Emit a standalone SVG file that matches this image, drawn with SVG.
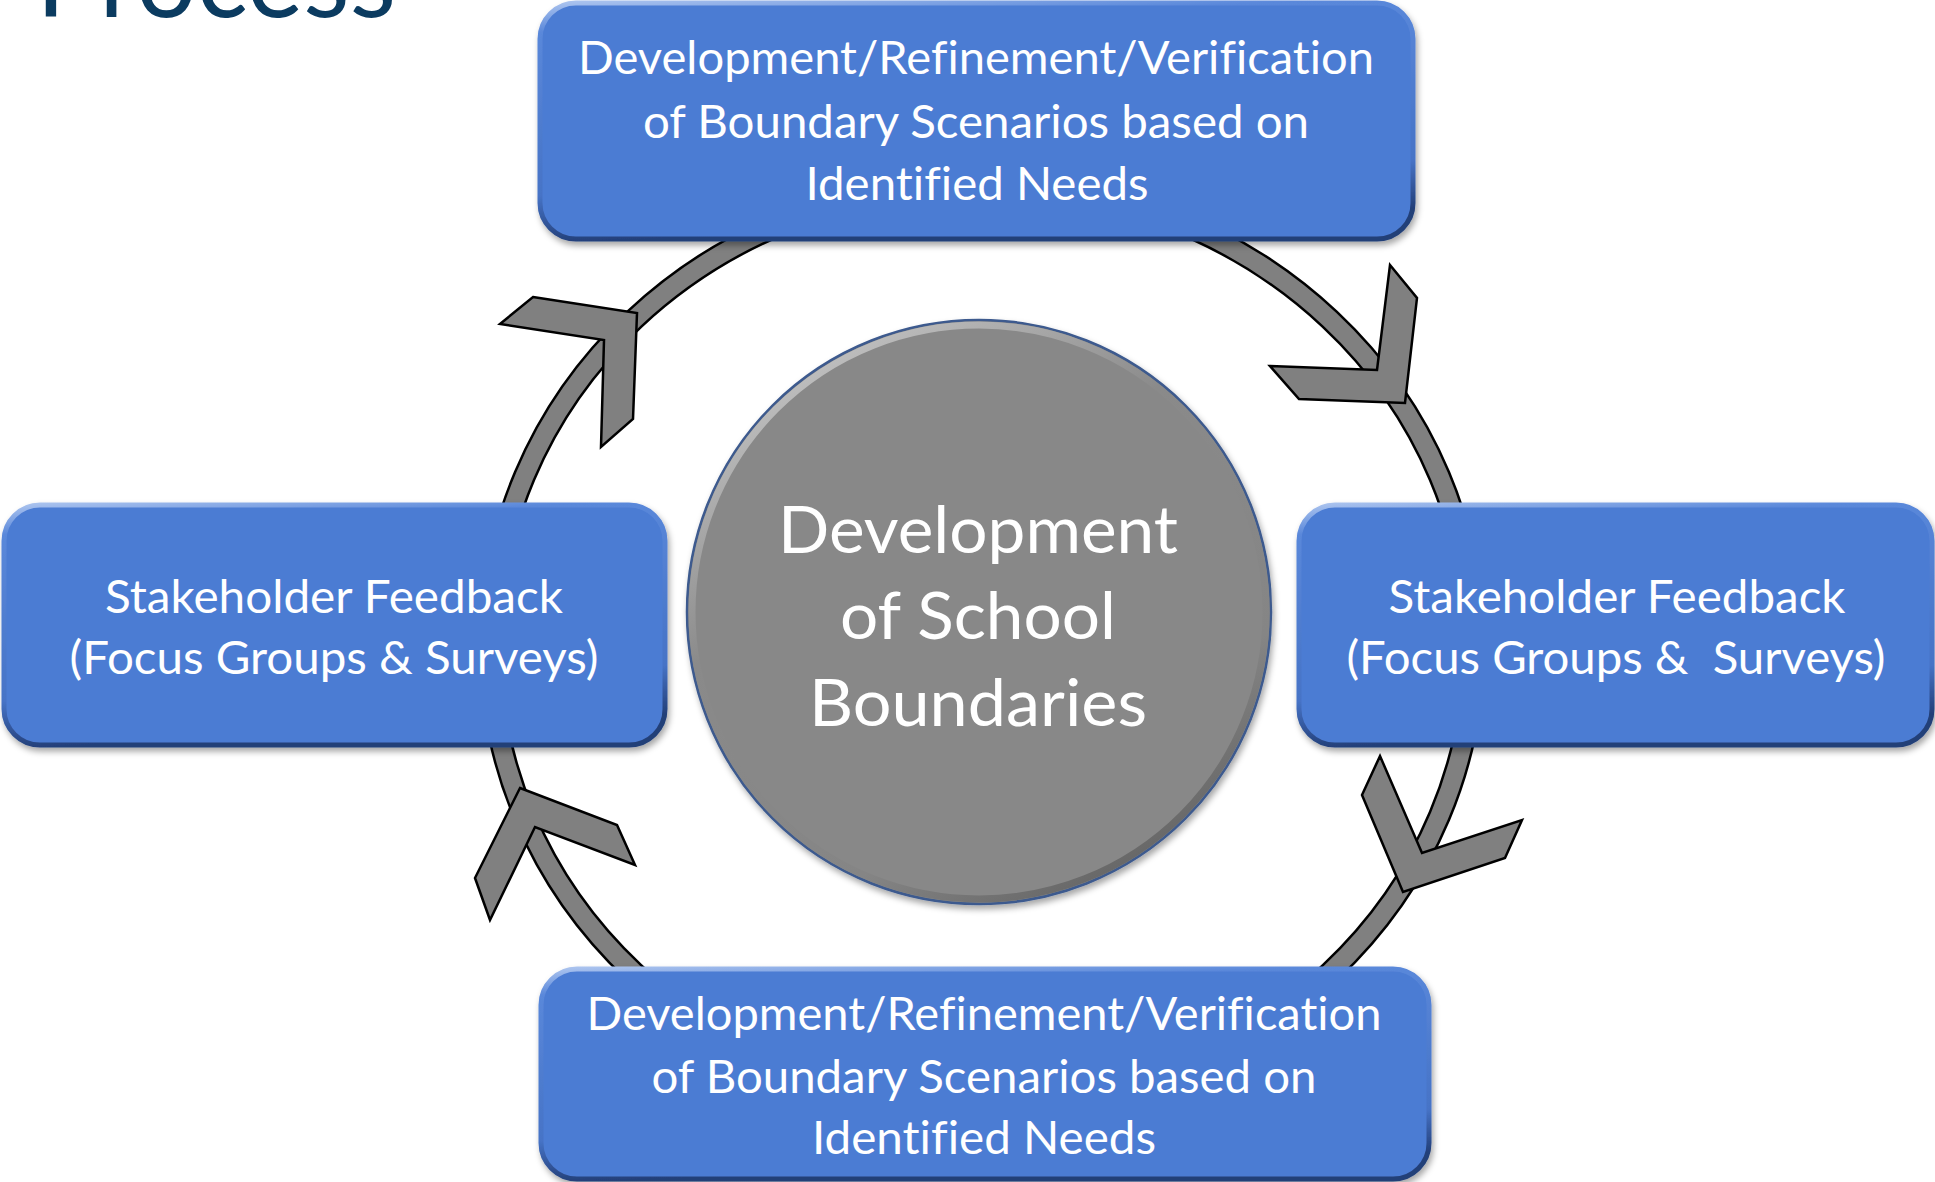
<svg xmlns="http://www.w3.org/2000/svg" width="1935" height="1182" viewBox="0 0 1935 1182">
  <style>
    .box { fill: #4B7BD3; stroke: url(#boxEdge); stroke-width: 5; }
    .btxt { font-family: Lato, "Open Sans", "Liberation Sans", sans-serif; font-size: 46px; fill: #FFFFFF; text-anchor: middle; white-space: pre; font-variant-ligatures: none; }
    .ctxt { font-family: Lato, "Open Sans", "Liberation Sans", sans-serif; font-size: 65px; fill: #FFFFFF; text-anchor: middle; font-variant-ligatures: none; }
    .chev { fill: #808080; stroke: #000000; stroke-width: 2.5; stroke-linejoin: miter; }
    .title { font-family: Lato, "Open Sans", "Liberation Sans", sans-serif; font-size: 110px; fill: #0B3B60; }
  </style>
  <defs>
    <linearGradient id="boxEdge" x1="0" y1="0" x2="0.15" y2="1">
      <stop offset="0" stop-color="#A9C2EE"/>
      <stop offset="0.12" stop-color="#5A88DA"/>
      <stop offset="0.8" stop-color="#4673C6"/>
      <stop offset="1" stop-color="#233F78"/>
    </linearGradient>
    <linearGradient id="circEdge" x1="0.2" y1="0" x2="0.8" y2="1">
      <stop offset="0" stop-color="#C8C8C8"/>
      <stop offset="0.35" stop-color="#8A8A8A"/>
      <stop offset="0.75" stop-color="#858585"/>
      <stop offset="1" stop-color="#5E5E5E"/>
    </linearGradient>
    <filter id="shadow" x="-10%" y="-10%" width="120%" height="130%">
      <feDropShadow dx="2" dy="4" stdDeviation="3" flood-color="#000000" flood-opacity="0.35"/>
    </filter>
  </defs>

  <rect x="0" y="0" width="1935" height="1182" fill="#FFFFFF"/>

  <text class="title" x="36" y="17" textLength="360" lengthAdjust="spacingAndGlyphs">Process</text>

  <g id="connectors">
    <ellipse cx="982" cy="646" rx="492" ry="462" fill="none" stroke="#000000" stroke-width="23"/>
    <ellipse cx="982" cy="646" rx="492" ry="462" fill="none" stroke="#808080" stroke-width="18"/>
    <polygon class="chev" points="533,297 637,313 633,419 601,447 604,340 500,324"/>
    <polygon class="chev" points="1390,265 1417,298 1405,403 1299,399 1270,366 1377,370"/>
    <polygon class="chev" points="1380,756 1422,853 1522,820 1505,858 1403,892 1362,795"/>
    <polygon class="chev" points="520,788 617,825 635,865 535,827 490,920 475,878"/>
  </g>

  <g id="node-center">
    <circle cx="979" cy="612" r="292" fill="#888888" stroke="#3D5A8E" stroke-width="2.5" filter="url(#shadow)"/>
    <circle cx="979" cy="612" r="287" fill="none" stroke="url(#circEdge)" stroke-width="7"/>
    <text class="ctxt" x="978" y="553" textLength="400" lengthAdjust="spacingAndGlyphs">Development</text>
    <text class="ctxt" x="978" y="639" textLength="276" lengthAdjust="spacingAndGlyphs">of School</text>
    <text class="ctxt" x="978" y="726" textLength="338" lengthAdjust="spacingAndGlyphs">Boundaries</text>
  </g>

  <g id="node-top">
    <rect class="box" x="540" y="3" width="873" height="236" rx="36" filter="url(#shadow)"/>
    <text class="btxt" x="976" y="74" textLength="796" lengthAdjust="spacingAndGlyphs">Development/Refinement/Verification</text>
    <text class="btxt" x="976" y="138" textLength="666" lengthAdjust="spacingAndGlyphs">of Boundary Scenarios based on</text>
    <text class="btxt" x="977" y="200" textLength="343" lengthAdjust="spacingAndGlyphs">Identified Needs</text>
  </g>

  <g id="node-left">
    <rect class="box" x="4" y="505" width="661" height="240" rx="36" filter="url(#shadow)"/>
    <text class="btxt" x="334" y="613" textLength="458" lengthAdjust="spacingAndGlyphs">Stakeholder Feedback</text>
    <text class="btxt" x="334" y="674" textLength="529" lengthAdjust="spacingAndGlyphs">(Focus Groups &amp; Surveys)</text>
  </g>

  <g id="node-right">
    <rect class="box" x="1299" y="505" width="633" height="240" rx="36" filter="url(#shadow)"/>
    <text class="btxt" x="1617" y="613" textLength="457" lengthAdjust="spacingAndGlyphs">Stakeholder Feedback</text>
    <text class="btxt" x="1616" y="674" textLength="539" lengthAdjust="spacingAndGlyphs">(Focus Groups &amp;  Surveys)</text>
  </g>

  <g id="node-bottom">
    <rect class="box" x="541" y="969" width="888" height="210" rx="36" filter="url(#shadow)"/>
    <text class="btxt" x="984" y="1030" textLength="795" lengthAdjust="spacingAndGlyphs">Development/Refinement/Verification</text>
    <text class="btxt" x="984" y="1093" textLength="665" lengthAdjust="spacingAndGlyphs">of Boundary Scenarios based on</text>
    <text class="btxt" x="984" y="1154" textLength="344" lengthAdjust="spacingAndGlyphs">Identified Needs</text>
  </g>
</svg>
